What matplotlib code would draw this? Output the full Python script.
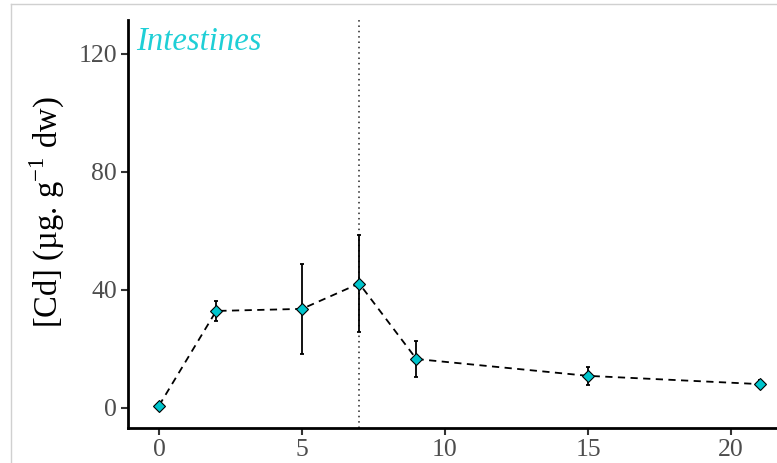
import matplotlib
matplotlib.use("Agg")
import matplotlib.pyplot as plt
from matplotlib.lines import Line2D

days = [0, 2, 5, 7, 9, 15, 21]
cd = [0.8, 32.9, 33.6, 42.2, 16.6, 10.9, 8.1]
err = [0.8, 3.5, 15.2, 16.4, 6.1, 3.0, 1.3]
xticks = [0, 5, 10, 15, 20]
yticks = [0, 40, 80, 120]
title = "Intestines"
vline_day = 7

W, H = 777, 463
fig = plt.figure(figsize=(W/100, H/100), dpi=100)
plt.rcParams['font.family'] = ['Liberation Serif', 'DejaVu Serif']
plt.rcParams['mathtext.fontset'] = 'custom'
plt.rcParams['mathtext.rm'] = 'Liberation Serif'

left, right, bottom, top = 128, 777, 428, 20
ax = fig.add_axes([left/W, 1-bottom/H, (right-left)/W, (bottom-top)/H])

x0px, xs = 159, 28.6
ax.set_xlim((left-x0px)/xs, (right-x0px)/xs)
y0px, ys = 408, 2.95
ax.set_ylim(-(bottom-y0px)/ys, (y0px-top)/ys)

ax.axvline(vline_day, color='#222222', ls=(0, (1, 2.5)), lw=1.1, zorder=1)
ax.errorbar(days, cd, yerr=err, fmt='none', ecolor='black', elinewidth=1.3,
            capsize=1.5, capthick=1.3, zorder=2)
ax.plot(days, cd, ls=(0, (4, 3)), color='black', lw=1.3, zorder=3)
ax.plot(days, cd, ls='none', marker='D', markersize=6, markerfacecolor='#00C5CD',
        markeredgecolor='black', markeredgewidth=0.8, zorder=4)

ax.set_xticks(xticks)
ax.set_yticks(yticks)
ax.tick_params(axis='both', labelsize=18.5, labelcolor='#4D4D4D', color='#333333',
               length=5, width=1.5, pad=3)
for s in ['top', 'right']:
    ax.spines[s].set_visible(False)
for s in ['left', 'bottom']:
    ax.spines[s].set_linewidth(2)
    ax.spines[s].set_color('black')

ax.set_ylabel(r"[Cd] (µg. g$^{-1}$ dw)", fontsize=23.5, color='black')
ax.yaxis.set_label_coords(-0.094, 0.53)
ax.text(0.013, 0.985, title, transform=ax.transAxes, fontsize=23.5, style='italic',
        color='#1FCFD6', ha='left', va='top')

# light gray frame (cropped panel border)
fig.add_artist(Line2D([11/W, 11/W], [0, 1-4/H], transform=fig.transFigure, color='#D0D0D0', lw=1))
fig.add_artist(Line2D([11/W, 1], [1-4/H, 1-4/H], transform=fig.transFigure, color='#D0D0D0', lw=1))

fig.savefig("out.png", dpi=100)
